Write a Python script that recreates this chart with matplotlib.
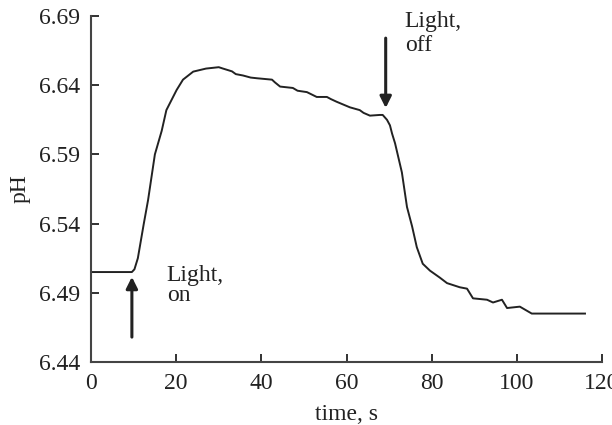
import matplotlib
matplotlib.use('Agg')
import matplotlib.pyplot as plt

# pH trace
time_s = [0, 9.6, 10.2, 11.0, 12.4, 13.4, 15.0, 16.6, 17.7, 20.1, 21.6, 24.0,
          27.0, 30.0, 31.0, 33.1, 34.0, 35.7, 37.5, 39.0, 42.5, 43.2, 44.4,
          47.4, 48.5, 50.7, 53.0, 55.4, 56.3, 57.7, 60.8, 63.1, 64.0, 65.5,
          67.8, 68.5, 69.5, 70.2, 70.7, 71.4, 73.0, 74.2, 75.4, 76.5, 77.9,
          79.6, 81.9, 83.6, 86.6, 88.3, 89.7, 93.0, 94.4, 96.5, 97.7, 100.7,
          103.5, 116.0]
ph = [6.505, 6.505, 6.507, 6.515, 6.540, 6.557, 6.590, 6.607, 6.622, 6.6365,
      6.644, 6.6498, 6.652, 6.653, 6.652, 6.650, 6.648, 6.647, 6.6455, 6.645,
      6.644, 6.642, 6.639, 6.638, 6.636, 6.635, 6.6315, 6.6315, 6.630, 6.628,
      6.624, 6.622, 6.620, 6.618, 6.6185, 6.6185, 6.615, 6.611, 6.605, 6.598,
      6.577, 6.552, 6.538, 6.523, 6.511, 6.506, 6.501, 6.497, 6.494, 6.493,
      6.486, 6.485, 6.483, 6.485, 6.479, 6.480, 6.475, 6.475]

x_ticks = [0, 20, 40, 60, 80, 100, 120]
y_ticks = [6.44, 6.49, 6.54, 6.59, 6.64, 6.69]

# arrows: (x, tail y, tip y)
arrow_on = (9.6, 6.458, 6.5015)
arrow_off = (69.2, 6.674, 6.6235)

ink = '#222222'
plt.rcParams['font.family'] = ['Liberation Serif', 'DejaVu Serif']

fig = plt.figure(figsize=(6.12, 4.25), dpi=100)
ax = fig.add_axes([0.1487, 0.1482, 0.835, 0.8142])

ax.plot(time_s, ph, color=ink, lw=1.4)

for x, y0, y1 in (arrow_on, arrow_off):
    ax.annotate('', xy=(x, y1), xytext=(x, y0),
                arrowprops=dict(arrowstyle='-|>', color=ink, lw=2.2,
                                mutation_scale=17, shrinkA=0, shrinkB=0))

ax.text(17.8, 6.510, 'Light,\non', fontsize=17, color=ink, va='top',
        ha='left', linespacing=0.95)
ax.text(73.7, 6.6935, 'Light,\noff', fontsize=17, color=ink, va='top',
        ha='left', linespacing=1.15)

ax.set_xlim(0, 120)
ax.set_ylim(6.44, 6.69)
ax.set_xticks(x_ticks)
ax.set_yticks(y_ticks)
ax.set_yticklabels([f'{v:.2f}' for v in y_ticks])
ax.tick_params(direction='in', length=6, width=1.3, colors=ink,
               labelsize=17, pad=8)
for side in ('top', 'right'):
    ax.spines[side].set_visible(False)
for side in ('left', 'bottom'):
    ax.spines[side].set_color('#444444')
    ax.spines[side].set_linewidth(1.5)

ax.set_xlabel('time, s', fontsize=17, color=ink, labelpad=7)
ax.set_ylabel('pH', fontsize=17, color=ink, labelpad=6)

fig.savefig('out.png', dpi=100)
